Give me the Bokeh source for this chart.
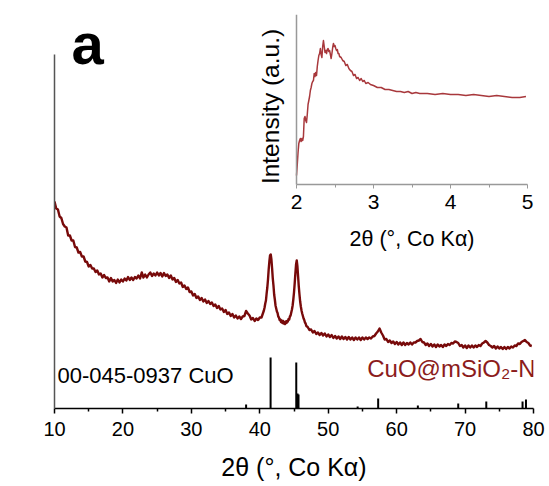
import math
from bokeh.plotting import figure
from bokeh.models import Range1d, LinearAxis, FixedTicker, Label
from bokeh.embed import file_html
from bokeh.resources import INLINE

FONT = "Liberation Sans"

# ---------------- data ----------------
main_x = [
    10.0, 10.25, 10.5, 10.75, 11.0, 11.25, 11.5, 11.75, 12.0, 12.25, 12.5, 12.75,
    13.0, 13.25, 13.5, 13.75, 14.0, 14.25, 14.5, 14.75, 15.0, 15.25, 15.5, 15.75,
    16.0, 16.25, 16.5, 16.75, 17.0, 17.25, 17.5, 17.75, 18.0, 18.25, 18.5, 18.75,
    19.0, 19.25, 19.5, 19.75, 20.0, 20.25, 20.5, 20.75, 21.0, 21.25, 21.5, 21.75,
    22.0, 22.25, 22.5, 22.75, 23.0, 23.25, 23.5, 23.75, 24.0, 24.25, 24.5, 24.75,
    25.0, 25.25, 25.5, 25.75, 26.0, 26.25, 26.5, 26.75, 27.0, 27.25, 27.5, 27.75,
    28.0, 28.25, 28.5, 28.75, 29.0, 29.25, 29.5, 29.75, 30.0, 30.25, 30.5, 30.75,
    31.0, 31.25, 31.5, 31.75, 32.0, 32.25, 32.5, 32.75, 33.0, 33.25, 33.5, 33.75,
    34.0, 34.25, 34.5, 34.75, 35.0, 35.25, 35.5, 35.75, 36.0, 36.25, 36.5, 36.75,
    37.0, 37.25, 37.5, 37.75, 38.0, 38.25, 38.5, 38.75, 39.0, 39.25, 39.5, 39.75,
    40.0, 40.25, 40.5,
    40.6, 40.7, 40.8, 40.9, 41.0, 41.1, 41.2, 41.3, 41.4, 41.5, 41.6, 41.7, 41.8,
    41.9, 42.0, 42.1, 42.2, 42.3, 42.4, 42.5, 42.6, 42.7, 42.8, 42.9, 43.0, 43.1,
    43.2, 43.3, 43.4, 43.5, 43.6, 43.7, 43.8, 43.9, 44.0, 44.1, 44.2, 44.3, 44.4,
    44.5, 44.6, 44.7, 44.8, 44.9, 45.0, 45.1, 45.2, 45.3, 45.4, 45.5, 45.6, 45.7,
    45.8, 45.9, 46.0, 46.1, 46.2, 46.3, 46.4, 46.5, 46.6, 46.7, 46.8, 46.9,
    47.0, 47.25, 47.5, 47.75, 48.0, 48.25, 48.5, 48.75, 49.0, 49.25, 49.5, 49.75,
    50.0, 50.25, 50.5, 50.75, 51.0, 51.25, 51.5, 51.75, 52.0, 52.25, 52.5, 52.75,
    53.0, 53.25, 53.5, 53.75, 54.0, 54.25, 54.5, 54.75, 55.0, 55.25, 55.5, 55.75,
    56.0, 56.25, 56.5, 56.75, 57.0, 57.25, 57.5, 57.75, 58.0, 58.25, 58.5, 58.75,
    59.0, 59.25, 59.5, 59.75, 60.0, 60.25, 60.5, 60.75, 61.0, 61.25, 61.5, 61.75,
    62.0, 62.25, 62.5, 62.75, 63.0, 63.25, 63.5, 63.75, 64.0, 64.25, 64.5, 64.75,
    65.0, 65.25, 65.5, 65.75, 66.0, 66.25, 66.5, 66.75, 67.0, 67.25, 67.5, 67.75,
    68.0, 68.25, 68.5, 68.75, 69.0, 69.25, 69.5, 69.75, 70.0, 70.25, 70.5, 70.75,
    71.0, 71.25, 71.5, 71.75, 72.0, 72.25, 72.5, 72.75, 73.0, 73.25, 73.5, 73.75,
    74.0, 74.25, 74.5, 74.75, 75.0, 75.25, 75.5, 75.75, 76.0, 76.25, 76.5, 76.75,
    77.0, 77.25, 77.5, 77.75, 78.0, 78.25, 78.5, 78.75, 79.0, 79.25, 79.5, 79.75,
]
main_y = [
    207, 200, 199, 192, 190.5, 184.5, 182, 181, 173, 173, 168, 168,
    161.5, 161, 156, 156.5, 152, 152, 147, 146.5, 142, 143.5, 140, 140,
    136.5, 138, 134, 135, 131, 133.5, 130.5, 131, 127, 130.5, 127, 128.5,
    125.5, 129, 126, 129, 127, 130, 128, 131.5, 128.5, 131, 128.5, 131.5,
    130, 133, 130, 136, 131, 134, 131, 134, 136, 132.5, 135, 133,
    136, 133, 135.5, 132, 135.5, 132.5, 134, 130.5, 133, 129, 130.5, 126.5,
    128.5, 125, 126, 121.5, 123, 119.5, 121, 116.5, 117, 113, 114.5, 110.5,
    112, 108.5, 110.5, 107, 109, 105.5, 107.5, 104.5, 106, 102.5, 104, 100.5,
    102.5, 99, 100, 96.5, 98.5, 94.5, 96, 92.5, 94.5, 91, 93, 90,
    92, 89.5, 92, 92.5, 97.5, 95, 93, 89, 90.5, 87.5, 90, 88.5,
    91, 91, 96,
    98, 101, 105, 108, 115, 121, 129, 139, 147, 153, 154, 149, 140,
    130, 123, 114, 109, 103, 100, 97, 95.5, 92, 91, 88.5, 89, 86.5,
    88, 85.5, 87.5, 85, 86.5, 84.5, 87, 85.5, 87.5, 87, 89.5, 89, 92,
    93, 96, 99, 103, 109, 116, 125, 135, 144, 148, 142, 132, 122,
    114, 107, 102, 98, 95, 92.5, 90, 88.5, 86, 85, 82.5, 82,
    81.5, 78.5, 79, 76, 77.5, 74.5, 76, 73.5, 75.5, 73, 75, 72,
    74, 71.5, 73.5, 70.5, 72.5, 70, 72, 69.5, 72, 69.5, 71.5, 69,
    71.5, 69, 71, 68.5, 71, 69, 71, 68.5, 71, 69, 71, 69.5,
    71, 70, 72, 72.5, 75, 77, 80, 76, 73, 69, 69.5, 66.5,
    68, 65.5, 67, 64.5, 66.5, 64, 66, 63.5, 66, 63.5, 65.5, 64,
    66, 64, 66, 66, 67.5, 68, 69.5, 66.5, 66, 63.5, 65, 62.5,
    64.5, 62, 64, 61.5, 64, 62, 63.5, 61.5, 64, 62.5, 64.5, 63.5,
    65.5, 65, 67, 66.5, 65.5, 62.5, 63.5, 61, 63, 60.5, 63, 61,
    63, 61, 63, 61.5, 63.5, 62.5, 65, 66, 67.5, 66, 63.5, 62.5,
    61, 62.5, 60, 62, 60, 61.5, 59.5, 61.5, 59.5, 61.5, 60, 62,
    61, 63, 62.5, 65, 64.5, 66.5, 67.5, 68.5, 66.5, 65.5, 63, 62.5,
]

# reference pattern 00-045-0937 CuO (stick positions / relative heights)
stick_pos = [38.0, 41.58, 45.33, 45.52, 45.66, 54.3, 57.3, 63.1, 69.0, 73.1, 78.4, 78.9]
stick_h = [4, 51, 46, 15, 14, 2, 10, 3, 5, 7, 7, 9]

# inset: low-angle region
inset_x = [
    2.00, 2.01, 2.02, 2.03, 2.04, 2.05, 2.06, 2.07, 2.08, 2.09, 2.10, 2.11, 2.12,
    2.13, 2.14, 2.15, 2.16, 2.17, 2.18, 2.19, 2.20, 2.21, 2.22, 2.23, 2.24, 2.25,
    2.26, 2.27, 2.28, 2.29, 2.30, 2.31, 2.32, 2.33, 2.34, 2.35, 2.36, 2.37, 2.38,
    2.39, 2.40, 2.41, 2.42, 2.43, 2.44, 2.45, 2.46, 2.47, 2.48, 2.49, 2.50, 2.51,
    2.52, 2.53, 2.54, 2.55, 2.56, 2.58, 2.60, 2.62, 2.64, 2.66, 2.68, 2.70, 2.72,
    2.74, 2.76, 2.78, 2.80, 2.82, 2.84, 2.86, 2.88, 2.90, 2.93, 2.96, 3.00, 3.05,
    3.10, 3.15, 3.20, 3.25, 3.30, 3.35, 3.40, 3.45, 3.50, 3.55, 3.60, 3.70, 3.80,
    3.90, 4.00, 4.10, 4.20, 4.30, 4.40, 4.50, 4.60, 4.70, 4.80, 4.90, 4.98,
]
inset_y = [
    9, 20, 32, 41, 44, 46, 43, 46, 44, 48, 66, 68, 64,
    62, 70, 80, 84, 88, 94, 97, 101, 103, 104, 111, 108, 112,
    109, 118, 124, 129, 131, 136, 130, 127, 138, 144, 138, 132, 134,
    131, 135, 136, 133, 134, 130, 126, 131, 137, 141, 138, 139, 136,
    134, 135, 131, 131, 128, 127, 124, 123, 119, 120, 116, 114, 113,
    109, 110, 106, 107, 104, 106, 103, 104, 101, 102, 100, 99, 97,
    97, 95, 95, 94, 93, 93, 92, 93, 91, 92, 91, 91, 90,
    91, 90, 90, 89, 90, 89, 88, 89, 88, 87, 87, 88,
]

main_ticks = [10, 20, 30, 40, 50, 60, 70, 80]
main_minor = [15, 25, 35, 45, 55, 65, 75]
inset_ticks = [2, 3, 4, 5]
inset_minor = [2.5, 3.5, 4.5]

DARK_RED = "#780a0a"
LABEL_RED = "#8c1c1c"
INSET_RED = "#a8383c"

# ---------------- figure ----------------
p = figure(width=549, height=486, output_backend="svg", toolbar_location=None,
           x_range=Range1d(10, 80), y_range=Range1d(0, 394),
           min_border_left=54, min_border_right=16, min_border_top=14,
           min_border_bottom=78)
p.outline_line_color = None
p.xgrid.visible = False
p.ygrid.visible = False
p.background_fill_color = "white"
p.border_fill_color = "white"

p.extra_x_ranges = {"ix": Range1d(-1.1429, 5.0779)}
p.extra_y_ranges = {"iy": Range1d(-224, 170)}

# main x axis
xa = p.xaxis[0]
xa.ticker = FixedTicker(ticks=main_ticks, minor_ticks=main_minor)
xa.axis_label = "2θ (°, Co Kα)"
xa.axis_label_text_font = FONT
xa.axis_label_text_font_size = "25px"
xa.axis_label_text_font_style = "normal"
xa.axis_label_text_color = "black"
xa.axis_label_standoff = 14
xa.major_label_text_font = FONT
xa.major_label_text_font_size = "20px"
xa.major_label_text_color = "black"
xa.major_label_standoff = 8
xa.axis_line_color = "black"
xa.axis_line_width = 1.5
xa.major_tick_in = 0
xa.major_tick_out = 5
xa.minor_tick_in = 0
xa.minor_tick_out = 3
xa.major_tick_line_color = "black"
xa.minor_tick_line_color = "black"
xa.major_tick_line_width = 1.5
xa.minor_tick_line_width = 1.5

# main y axis (no ticks; title placed as a rotated label)
ya = p.yaxis[0]
ya.ticker = FixedTicker(ticks=[])
ya.bounds = (0, 354)
ya.axis_line_color = "#555555"
ya.axis_line_width = 1.5
ya.major_tick_line_color = None
ya.minor_tick_line_color = None
ya.major_label_text_font_size = "0px"

# inset axes
ixa = LinearAxis(x_range_name="ix", y_range_name="iy", fixed_location=0, bounds=(2, 5),
                 ticker=FixedTicker(ticks=inset_ticks, minor_ticks=inset_minor))
ixa.axis_label = "2θ (°, Co Kα)"
ixa.axis_label_text_font = FONT
ixa.axis_label_text_font_size = "21.5px"
ixa.axis_label_text_font_style = "normal"
ixa.axis_label_text_color = "black"
ixa.axis_label_standoff = 15
ixa.major_label_text_font = FONT
ixa.major_label_text_font_size = "21px"
ixa.major_label_text_color = "black"
ixa.major_label_standoff = 6
ixa.axis_line_color = "#999999"
ixa.axis_line_width = 1.5
ixa.major_tick_in = 0
ixa.major_tick_out = 4
ixa.minor_tick_in = 0
ixa.minor_tick_out = 3
ixa.major_tick_line_color = "#999999"
ixa.minor_tick_line_color = "#999999"
p.add_layout(ixa, "below")

iya = LinearAxis(x_range_name="ix", y_range_name="iy", fixed_location=2, bounds=(0, 170),
                 ticker=FixedTicker(ticks=[]))
iya.axis_line_color = "#999999"
iya.axis_line_width = 1.5
iya.major_tick_line_color = None
iya.minor_tick_line_color = None
iya.major_label_text_font_size = "0px"
p.add_layout(iya, "left")

# ---------------- glyphs ----------------
p.line(main_x, main_y, line_color=DARK_RED, line_width=2.4, line_join="round")
p.segment(x0=stick_pos, y0=[0] * len(stick_pos), x1=stick_pos, y1=stick_h,
          line_color="black", line_width=2)
p.line(inset_x, inset_y, x_range_name="ix", y_range_name="iy",
       line_color=INSET_RED, line_width=1.5, line_join="round")

# ---------------- annotations ----------------
p.add_layout(Label(x=5.76, y=188, text="Intensity (a.u.)", angle=math.pi / 2,
                   text_font=FONT, text_font_size="24px", text_color="black",
                   text_align="center", text_baseline="middle"))
p.add_layout(Label(x=1.66, y=78, x_range_name="ix", y_range_name="iy",
                   text="Intensity (a.u.)", angle=math.pi / 2,
                   text_font=FONT, text_font_size="24.5px", text_color="black",
                   text_align="center", text_baseline="middle"))
p.add_layout(Label(x=12.5, y=365, text="a", text_font=FONT, text_font_size="58px",
                   text_font_style="bold", text_color="black",
                   text_align="left", text_baseline="alphabetic"))
p.add_layout(Label(x=10.44, y=33, text="00-045-0937 CuO", text_font=FONT,
                   text_font_size="22px", text_color="black",
                   text_align="left", text_baseline="middle"))
p.add_layout(Label(x=80.3, y=40.5, text="CuO@mSiO₂-N", text_font=FONT,
                   text_font_size="24px", text_color=LABEL_RED,
                   text_align="right", text_baseline="middle"))

open("out.html", "w").write(file_html(p, INLINE, title="XRD"))
